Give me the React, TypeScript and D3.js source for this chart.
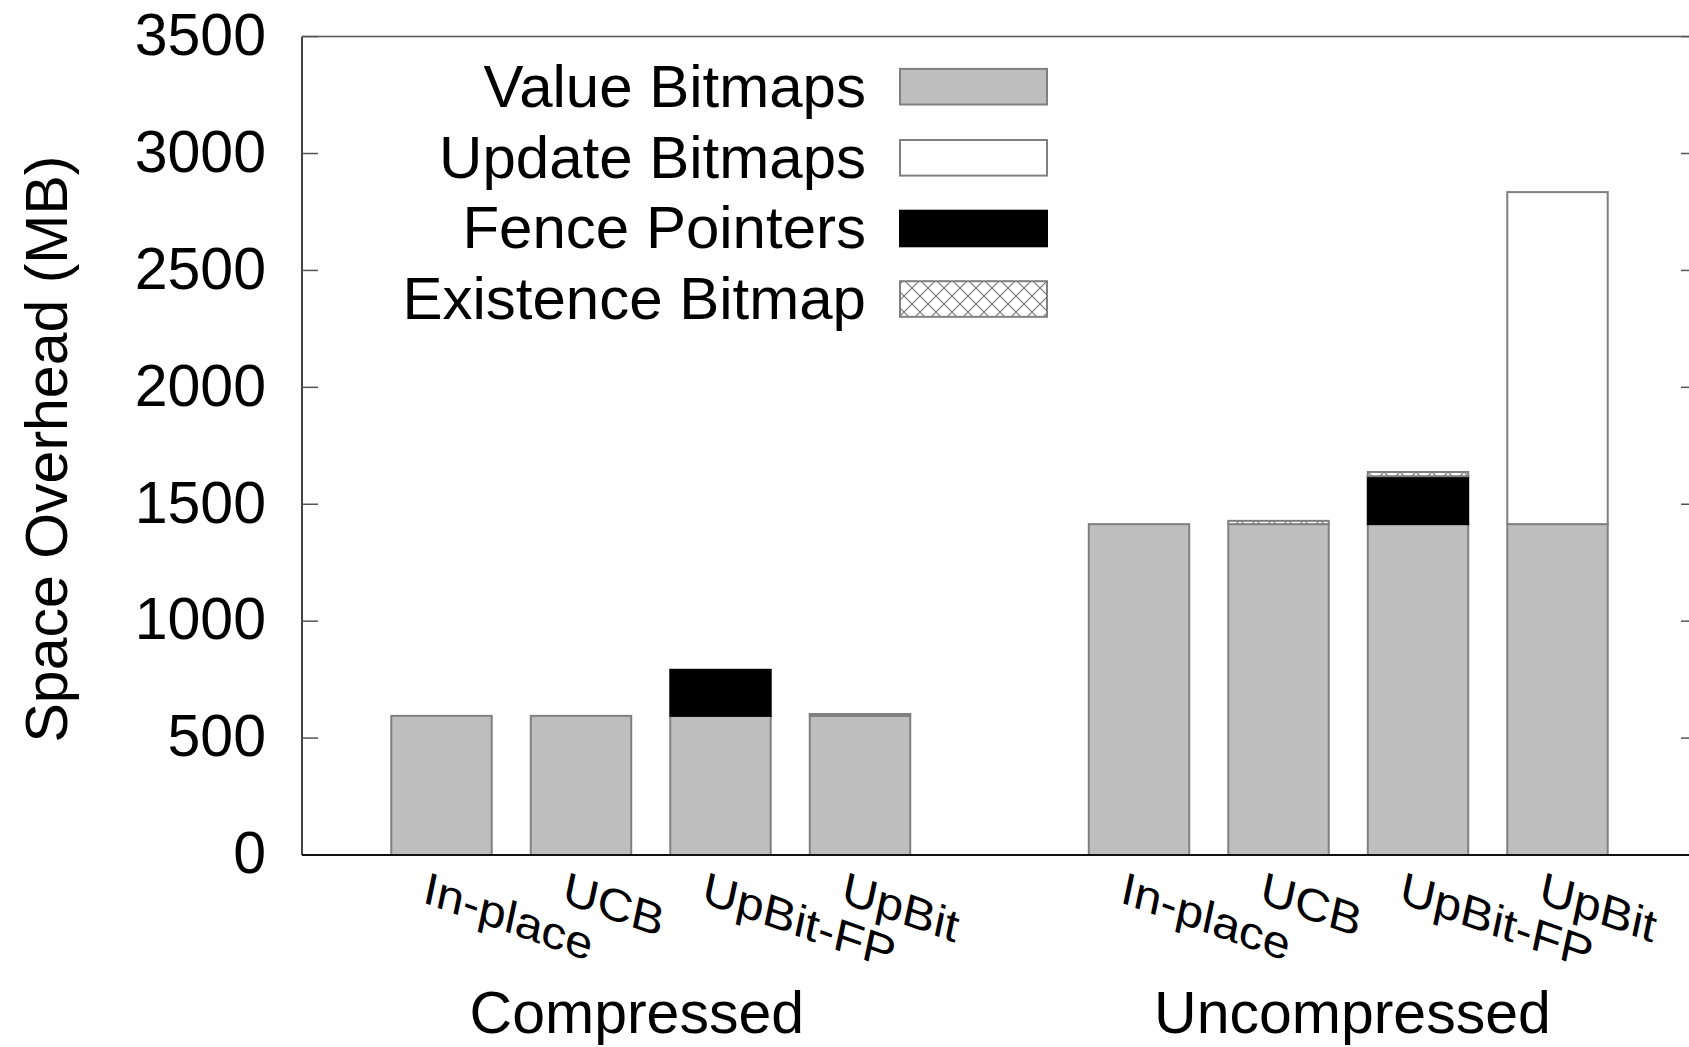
import React from "react";
import * as d3 from "d3";

const groups = ["Compressed", "Uncompressed"];
const methods = ["In-place", "UCB", "UpBit-FP", "UpBit"];
const seriesNames = ["Value Bitmaps", "Update Bitmaps", "Fence Pointers", "Existence Bitmap"];
// order: Compressed (In-place, UCB, UpBit-FP, UpBit), Uncompressed (same)
const valueBitmaps = [595, 595, 595, 595, 1415, 1415, 1415, 1415];
const updateBitmaps = [0, 0, 0, 8, 0, 0, 0, 1420];
const fencePointers = [0, 0, 197, 0, 0, 0, 205, 0];
const existenceBitmap = [0, 0, 0, 0, 0, 14, 18, 0];
const yTicks = [0, 500, 1000, 1500, 2000, 2500, 3000, 3500];
const groupLabelPos = [1.4, 6.53];

const W = 1689, H = 1047;
const left = 302, right = 1697, top = 36.6, bottom = 855;
const FONT = "'Liberation Sans', Arial, Helvetica, sans-serif";

export default function App() {
  const x = d3.scaleLinear().domain([-1, 9]).range([left, right]);
  const y = d3.scaleLinear().domain([0, 3500]).range([bottom, top]);
  const barW = 0.72;
  const series = [valueBitmaps, updateBitmaps, fencePointers, existenceBitmap];
  const fills = ["#bebebe", "#ffffff", "#000000", "url(#xhatch)"];
  const strokes = ["#808080", "#808080", "#000000", "#808080"];

  const bars: any[] = [];
  groups.forEach((g, gi) => {
    methods.forEach((m, mi) => {
      const idx = gi * 4 + mi;
      const slot = gi * 5 + mi;
      let base = 0;
      series.forEach((s, si) => {
        const v = s[idx];
        if (v <= 0) return;
        const x0 = x(slot - barW / 2);
        const x1 = x(slot + barW / 2);
        const y0 = y(base);
        const y1 = y(base + v);
        bars.push(
          <rect key={`${idx}-${si}`} x={x0} y={y1} width={x1 - x0} height={y0 - y1}
            fill={fills[si]} stroke={strokes[si]} strokeWidth={2} />
        );
        base += v;
      });
    });
  });

  const a = (19.5 * Math.PI) / 180;
  const b = (12 * Math.PI) / 180;
  const vs = 0.9;
  const mA = Math.cos(a), mB = Math.sin(a), mC = -Math.sin(b) * vs, mD = Math.cos(b) * vs;

  const xLabels: any[] = [];
  groups.forEach((g, gi) => {
    methods.forEach((m, mi) => {
      const slot = gi * 5 + mi;
      const ox = x(slot) - 20;
      const oy = 902;
      xLabels.push(
        <text key={`xl-${gi}-${mi}`} transform={`matrix(${mA},${mB},${mC},${mD},${ox},${oy})`}
          fontSize={50} fontFamily={FONT} fill="#000">{m}</text>
      );
    });
  });

  const legendRowY = [86.7, 157.8, 228.5, 299];
  const tickLen = 16;

  return (
    <svg width={W} height={H} style={{ position: "absolute", left: 0, top: 0, background: "#fff" }}>
      <defs>
        <pattern id="xhatch" patternUnits="userSpaceOnUse" width={16} height={16}>
          <rect width={16} height={16} fill="#fff" />
          <path d="M0,0 L16,16 M16,0 L0,16 M-4,12 L4,20 M12,-4 L20,4 M-4,4 L4,-4 M12,20 L20,12" stroke="#777" strokeWidth={1.2} />
        </pattern>
      </defs>
      <rect width={W} height={H} fill="#fff" />
      {/* frame */}
      <line x1={left} x2={right} y1={top} y2={top} stroke="#555" strokeWidth={1.5} />
      <line x1={right} x2={right} y1={top} y2={bottom} stroke="#555" strokeWidth={1.5} />
      <line x1={left} x2={left} y1={top} y2={bottom} stroke="#444" strokeWidth={2} />
      {yTicks.map((t) => (
        <g key={`yt-${t}`}>
          <line x1={left} x2={left + tickLen} y1={y(t)} y2={y(t)} stroke="#555" strokeWidth={1.5} />
          <line x1={right - tickLen} x2={right} y1={y(t)} y2={y(t)} stroke="#555" strokeWidth={1.5} />
          <text x={266} y={y(t)} dy="0.31em" textAnchor="end" fontSize={59} fontFamily={FONT} fill="#000">{t}</text>
        </g>
      ))}
      {bars}
      <line x1={left} x2={right} y1={bottom} y2={bottom} stroke="#111" strokeWidth={2.2} />
      {xLabels}
      {groups.map((g, gi) => (
        <text key={`gl-${gi}`} x={x(groupLabelPos[gi])} y={1033} textAnchor="middle" fontSize={59} fontFamily={FONT} fill="#000">{g}</text>
      ))}
      <text transform={`translate(67,449) rotate(-90)`} textAnchor="middle" fontSize={59} fontFamily={FONT} fill="#000">Space Overhead (MB)</text>
      {/* legend */}
      {seriesNames.map((n, i) => (
        <g key={`lg-${i}`}>
          <text x={866} y={legendRowY[i]} dy="0.33em" textAnchor="end" fontSize={60} fontFamily={FONT} fill="#000">{n}</text>
          <rect x={900} y={legendRowY[i] - 17.8} width={147} height={35.6} fill={fills[i]} stroke={strokes[i]} strokeWidth={2} />
        </g>
      ))}
    </svg>
  );
}
